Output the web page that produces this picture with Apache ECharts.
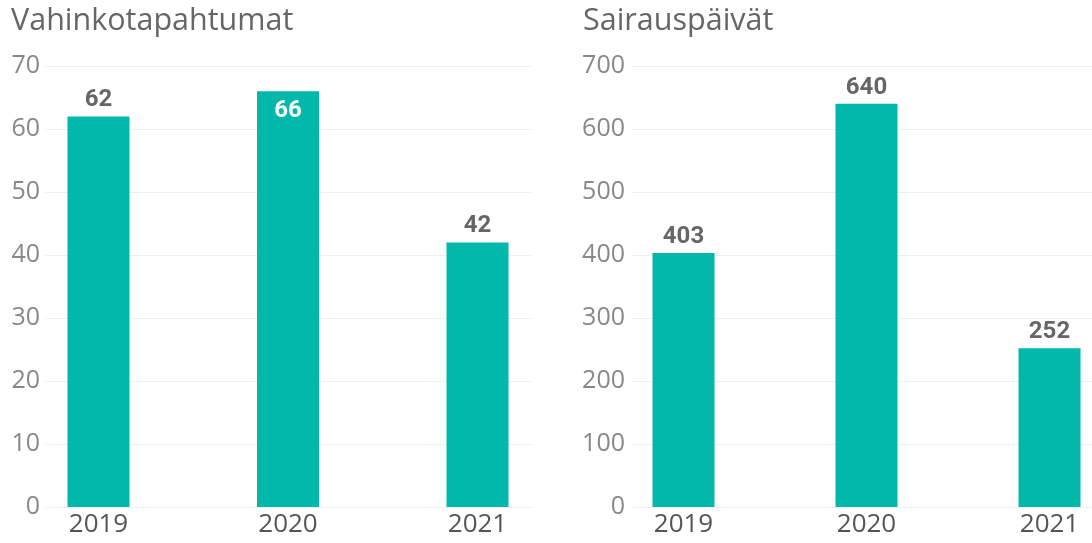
<!DOCTYPE html>
<html><head><meta charset="utf-8">
<script src="https://cdn.jsdelivr.net/npm/echarts@6/dist/echarts.min.js"></script>
<style>html,body{margin:0;padding:0;background:#fff}#c{width:1092px;height:543px}</style>
</head><body><div id="c"></div>
<script>
const categories = ['2019', '2020', '2021'];
const leftTitle = 'Vahinkotapahtumat';
const rightTitle = 'Sairauspäivät';
const leftValues = [62, 66, 42];
const rightValues = [403, 640, 252];
const leftInside = [false, true, false];
const rightInside = [false, false, false];
const leftAxis = { min: 0, max: 70, interval: 10 };
const rightAxis = { min: 0, max: 700, interval: 100 };

const teal = '#01B8AA';
const labelFont = 'Roboto, "DejaVu Sans", sans-serif';
const textFont = '"Open Sans", "Noto Sans", sans-serif';

function barData(vals, inside) {
  return vals.map((v, i) => ({
    value: v,
    label: inside[i]
      ? { position: 'insideTop', distance: 8, color: '#ffffff' }
      : { position: 'top', distance: 4, color: '#666666' }
  }));
}

const gTop = 66, gBottom = 36;
const xLabel = { margin: 5, fontFamily: textFont, fontSize: 26, color: '#555' };
const yLabel = { fontFamily: textFont, fontSize: 25, color: '#888' };
const chart = echarts.init(document.getElementById('c'));
chart.setOption({
  animation: false,
  title: [
    { text: leftTitle, left: 6, top: 1, textStyle: { fontFamily: textFont, fontSize: 30.5, fontWeight: 'normal', color: '#666' } },
    { text: rightTitle, left: 578, top: 1, textStyle: { fontFamily: textFont, fontSize: 30.5, fontWeight: 'normal', color: '#666' } }
  ],
  grid: [
    { left: 98.5, width: 379, top: gTop, bottom: gBottom },
    { left: 45, width: 487, top: gTop, bottom: gBottom },
    { left: 683.5, width: 366, top: gTop, bottom: gBottom },
    { left: 632, right: 0, top: gTop, bottom: gBottom }
  ],
  xAxis: [
    { type: 'category', data: categories, gridIndex: 0, boundaryGap: false, axisLine: { show: false }, axisTick: { show: false },
      splitLine: { show: false }, axisLabel: xLabel },
    { type: 'category', data: categories, gridIndex: 1, show: false },
    { type: 'category', data: categories, gridIndex: 2, boundaryGap: false, axisLine: { show: false }, axisTick: { show: false },
      splitLine: { show: false }, axisLabel: xLabel },
    { type: 'category', data: categories, gridIndex: 3, show: false }
  ],
  yAxis: [
    { type: 'value', gridIndex: 0, min: leftAxis.min, max: leftAxis.max, interval: leftAxis.interval, show: false, splitLine: { show: false } },
    { type: 'value', gridIndex: 1, min: leftAxis.min, max: leftAxis.max, interval: leftAxis.interval,
      axisLine: { show: false }, axisTick: { show: false },
      axisLabel: Object.assign({ margin: 5 }, yLabel),
      splitLine: { lineStyle: { color: '#efefef', width: 1 } } },
    { type: 'value', gridIndex: 2, min: rightAxis.min, max: rightAxis.max, interval: rightAxis.interval, show: false, splitLine: { show: false } },
    { type: 'value', gridIndex: 3, min: rightAxis.min, max: rightAxis.max, interval: rightAxis.interval,
      axisLine: { show: false }, axisTick: { show: false },
      axisLabel: Object.assign({ margin: 7 }, yLabel),
      splitLine: { lineStyle: { color: '#efefef', width: 1 } } }
  ],
  series: [
    { type: 'bar', xAxisIndex: 0, yAxisIndex: 0, data: barData(leftValues, leftInside), barWidth: 62, clip: false,
      itemStyle: { color: teal },
      label: { show: true, fontFamily: labelFont, fontSize: 24, fontWeight: 'bold' } },
    { type: 'bar', xAxisIndex: 2, yAxisIndex: 2, data: barData(rightValues, rightInside), barWidth: 62, clip: false,
      itemStyle: { color: teal },
      label: { show: true, fontFamily: labelFont, fontSize: 24, fontWeight: 'bold' } }
  ]
});
</script></body></html>
